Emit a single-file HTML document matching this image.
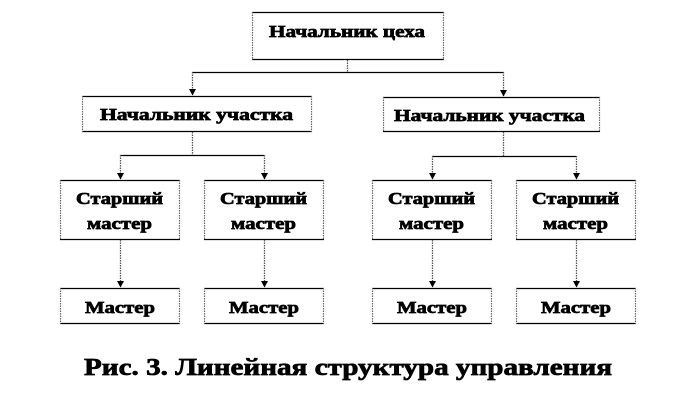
<!DOCTYPE html>
<html><head><meta charset="utf-8"><style>
html,body{margin:0;padding:0;background:#fff;}
svg{display:block;}
text{font-family:"Liberation Serif","Times New Roman",serif;font-weight:bold;fill:#000;stroke:#000;stroke-width:0.7;}
</style></head><body>
<svg width="696" height="408" viewBox="0 0 696 408" xmlns="http://www.w3.org/2000/svg">
<defs>
<marker id="a" markerWidth="8" markerHeight="8" refX="7" refY="4" orient="auto" markerUnits="userSpaceOnUse">
<path d="M1,0.5 L1,7.5 L7.5,4 Z" fill="#000"/>
</marker>
</defs>
<g fill="#fff">
<rect x="252" y="12" width="192" height="48"/>
<rect x="82" y="96" width="230" height="36"/>
<rect x="383" y="97" width="217" height="35"/>
<rect x="60" y="180" width="120" height="60"/>
<rect x="204" y="180" width="120" height="60"/>
<rect x="372" y="180" width="120" height="60"/>
<rect x="516" y="180" width="120" height="60"/>
<rect x="60" y="288" width="120" height="36"/>
<rect x="204" y="288" width="120" height="36"/>
<rect x="372" y="288" width="120" height="36"/>
<rect x="516" y="288" width="120" height="36"/>
</g>
<g stroke="#000" stroke-width="1.2">
<path d="M252,12.5H444M252,59.5H444"/>
<path d="M82,96.5H312M82,131.5H312"/>
<path d="M383,97.5H600M383,131.5H600"/>
<path d="M60,180.5H180M60,239.5H180M204,180.5H324M204,239.5H324M372,180.5H492M372,239.5H492M516,180.5H636M516,239.5H636"/>
<path d="M60,288.5H180M60,323.5H180M204,288.5H324M204,323.5H324M372,288.5H492M372,323.5H492M516,288.5H636M516,323.5H636"/>
</g>
<g stroke="#666" stroke-width="1.2" stroke-dasharray="1.5,1">
<path d="M252.5,12V60M443.5,12V60"/>
<path d="M82.5,96V132M311.5,96V132"/>
<path d="M383.5,97V132M599.5,97V132"/>
<path d="M60.5,180V240M179.5,180V240M204.5,180V240M323.5,180V240M372.5,180V240M491.5,180V240M516.5,180V240M635.5,180V240"/>
<path d="M60.5,288V324M179.5,288V324M204.5,288V324M323.5,288V324M372.5,288V324M491.5,288V324M516.5,288V324M635.5,288V324"/>
</g>
<g stroke="#000" stroke-width="1.2" fill="none">
<path d="M192,72.5H503.5"/>
<path d="M120,155.5H264"/>
<path d="M432,156.5H576"/>
</g>
<g stroke="#555" stroke-width="1.3" stroke-dasharray="1.5,1" fill="none">
<path d="M347.5,60V72"/>
<path d="M192.5,72V95" marker-end="url(#a)"/>
<path d="M503.5,72V96" marker-end="url(#a)"/>
<path d="M192.5,132V155"/>
<path d="M503.5,132V156"/>
<path d="M120.5,155V179" marker-end="url(#a)"/>
<path d="M264.5,155V179" marker-end="url(#a)"/>
<path d="M432.5,156V179" marker-end="url(#a)"/>
<path d="M576.5,156V179" marker-end="url(#a)"/>
<path d="M120.5,240V287" marker-end="url(#a)"/>
<path d="M264.5,240V287" marker-end="url(#a)"/>
<path d="M432.5,240V287" marker-end="url(#a)"/>
<path d="M576.5,240V287" marker-end="url(#a)"/>
</g>
<g font-size="17">
<text x="269" y="37" textLength="156" lengthAdjust="spacingAndGlyphs">Начальник цеха</text>
<text x="100" y="120" textLength="193" lengthAdjust="spacingAndGlyphs">Начальник участка</text>
<text x="394" y="121" textLength="191" lengthAdjust="spacingAndGlyphs">Начальник участка</text>
<text x="76" y="204" textLength="87" lengthAdjust="spacingAndGlyphs">Старший</text>
<text x="87" y="229" textLength="65" lengthAdjust="spacingAndGlyphs">мастер</text>
<text x="220" y="204" textLength="87" lengthAdjust="spacingAndGlyphs">Старший</text>
<text x="231" y="229" textLength="65" lengthAdjust="spacingAndGlyphs">мастер</text>
<text x="388" y="204" textLength="87" lengthAdjust="spacingAndGlyphs">Старший</text>
<text x="399" y="229" textLength="65" lengthAdjust="spacingAndGlyphs">мастер</text>
<text x="532" y="204" textLength="87" lengthAdjust="spacingAndGlyphs">Старший</text>
<text x="543" y="229" textLength="65" lengthAdjust="spacingAndGlyphs">мастер</text>
<text x="85" y="313" textLength="70" lengthAdjust="spacingAndGlyphs">Мастер</text>
<text x="229" y="313" textLength="70" lengthAdjust="spacingAndGlyphs">Мастер</text>
<text x="397" y="313" textLength="70" lengthAdjust="spacingAndGlyphs">Мастер</text>
<text x="541" y="313" textLength="70" lengthAdjust="spacingAndGlyphs">Мастер</text>
</g>
<text x="84" y="375" font-size="24" textLength="528" lengthAdjust="spacingAndGlyphs">Рис. 3. Линейная структура  управления</text>
</svg>
</body></html>
